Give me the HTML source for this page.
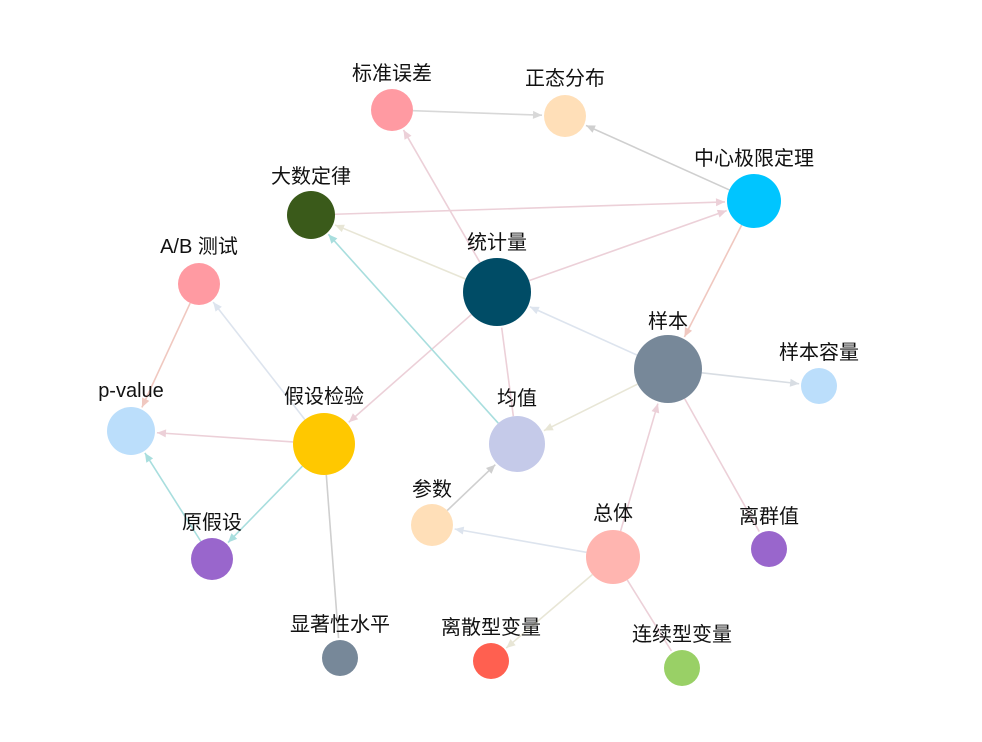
<!DOCTYPE html>
<html><head><meta charset="utf-8"><style>
html,body{margin:0;padding:0;background:#fff;}
svg{display:block;}
text{font-family:"Liberation Sans","Noto Sans CJK SC",sans-serif;font-size:20px;fill:#111;text-anchor:middle;}
</style></head><body>
<svg id="s" width="982" height="742" viewBox="0 0 982 742">
<g id="edges"></g>
<g id="nodes">
<circle cx="392" cy="110" r="21" fill="#ff9aa2"/>
<circle cx="565" cy="116" r="21" fill="#ffdfb8"/>
<circle cx="754" cy="201" r="27" fill="#00c5ff"/>
<circle cx="311" cy="215" r="24" fill="#3a5a1a"/>
<circle cx="199" cy="284" r="21" fill="#ff9aa2"/>
<circle cx="497" cy="292" r="34" fill="#004c66"/>
<circle cx="668" cy="369" r="34" fill="#778899"/>
<circle cx="819" cy="386" r="18" fill="#bbdefb"/>
<circle cx="131" cy="431" r="24" fill="#bbdefb"/>
<circle cx="324" cy="444" r="31" fill="#ffc800"/>
<circle cx="517" cy="444" r="28" fill="#c5cae9"/>
<circle cx="432" cy="525" r="21" fill="#ffdfb8"/>
<circle cx="613" cy="557" r="27" fill="#ffb5b0"/>
<circle cx="769" cy="549" r="18" fill="#9966cc"/>
<circle cx="212" cy="559" r="21" fill="#9966cc"/>
<circle cx="340" cy="658" r="18" fill="#778899"/>
<circle cx="491" cy="661" r="18" fill="#ff6050"/>
<circle cx="682" cy="668" r="18" fill="#99d066"/>
</g>
<g>
<text x="392" y="80">标准误差</text>
<text x="565" y="85">正态分布</text>
<text x="754" y="165">中心极限定理</text>
<text x="311" y="183">大数定律</text>
<text x="199" y="253">A/B 测试</text>
<text x="497" y="249">统计量</text>
<text x="668" y="328">样本</text>
<text x="819" y="359">样本容量</text>
<text x="131" y="397">p-value</text>
<text x="324" y="403">假设检验</text>
<text x="517" y="405">均值</text>
<text x="432" y="496">参数</text>
<text x="613" y="520">总体</text>
<text x="769" y="523">离群值</text>
<text x="212" y="529">原假设</text>
<text x="340" y="631">显著性水平</text>
<text x="491" y="634">离散型变量</text>
<text x="682" y="641">连续型变量</text>
</g>
</svg>
<script>
var N={a:[392,110,21],b:[565,116,21],c:[754,201,27],d:[311,215,24],e:[199,284,21],f:[497,292,34],g:[668,369,34],h:[819,386,18],i:[131,431,24],j:[324,444,31],k:[517,444,28],l:[432,525,21],m:[613,557,27],n:[769,549,18],o:[212,559,21],p:[340,658,18],q:[491,661,18],r:[682,668,18]};
var E=[["a","b","#d8d8d8",1],["c","b","#cfcfcf",1],["d","c","#ecd0d8",1],["f","a","#ecd0d8",1],["f","d","#e8e6d6",1],["f","c","#ecd0d8",1],["f","j","#ecd0d8",1],["k","f","#ecd0d8",0],["c","g","#f0c8c0",1],["g","f","#dde4ee",1],["g","h","#d8dde3",1],["g","k","#e8e6d6",1],["g","n","#ecd0d8",0],["m","g","#ecd0d8",1],["m","l","#dde4ee",1],["m","q","#e8e6d6",1],["m","r","#ecd0d8",0],["l","k","#cfcfcf",1],["k","d","#a8dede",1],["j","e","#dde4ee",1],["j","i","#ecd0d8",1],["j","o","#a8dede",1],["j","p","#cfcfcf",0],["e","i","#f0c8c0",1],["o","i","#a8dede",1]];
var g=document.getElementById("edges"),ns="http://www.w3.org/2000/svg",h="";
E.forEach(function(e){var s=N[e[0]],t=N[e[1]],dx=t[0]-s[0],dy=t[1]-s[1],L=Math.hypot(dx,dy),ux=dx/L,uy=dy/L;
var x1=s[0]+ux*s[2],y1=s[1]+uy*s[2],x2=t[0]-ux*(t[2]+2),y2=t[1]-uy*(t[2]+2);
h+='<line x1="'+x1+'" y1="'+y1+'" x2="'+x2+'" y2="'+y2+'" stroke="'+e[2]+'" stroke-width="1.6"/>';
if(e[3]){var px=-uy,py=ux,bx=x2-ux*9,by=y2-uy*9;h+='<polygon points="'+x2+','+y2+' '+(bx+px*4)+','+(by+py*4)+' '+(bx-px*4)+','+(by-py*4)+'" fill="'+e[2]+'"/>';}});
g.innerHTML=h;
</script>
</body></html>
